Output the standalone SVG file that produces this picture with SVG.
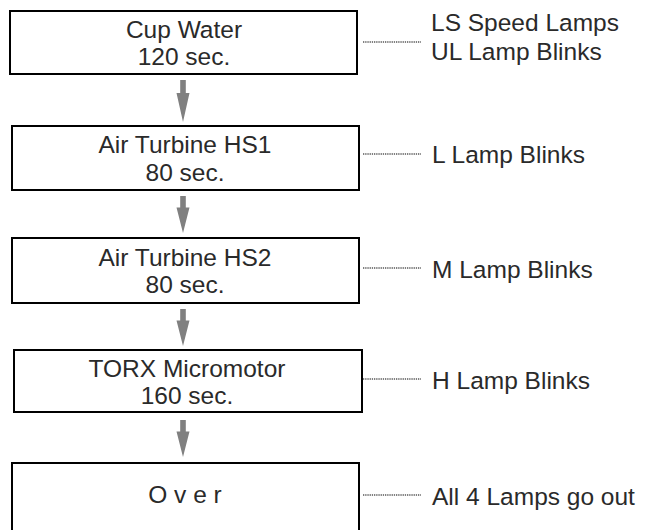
<svg xmlns="http://www.w3.org/2000/svg" width="667" height="530" viewBox="0 0 667 530">
<style>
.box{fill:#fff;stroke:#000;stroke-width:2}
.t{font-family:"Liberation Sans",Arial,sans-serif;font-size:24.5px;fill:#2a2a2a}
.c{text-anchor:middle}
.dot{stroke:#808080;stroke-width:2;stroke-dasharray:1.3 0.9;fill:none}
.arr{fill:#808080}
</style>
<defs>
<path id="arrow" d="M-2.8,0 H2.8 V13 H6.5 L0,42 L-6.5,13 H-2.8 Z"/>
</defs>
<rect width="667" height="530" fill="#fff"/>
<g id="connectors">
<use href="#arrow" class="arr" x="183" y="80"/>
<use href="#arrow" class="arr" transform="translate(183,196) scale(1,0.88)"/>
<use href="#arrow" class="arr" transform="translate(183,309) scale(1,0.88)"/>
<use href="#arrow" class="arr" transform="translate(183,420) scale(1,0.88)"/>
<line class="dot" x1="363" y1="42" x2="421" y2="42"/>
<line class="dot" x1="363" y1="154" x2="421" y2="154"/>
<line class="dot" x1="363" y1="268" x2="421" y2="268"/>
<line class="dot" x1="363" y1="379" x2="421" y2="379"/>
<line class="dot" x1="363" y1="495" x2="421" y2="495"/>
</g>
<g id="node1">
<rect class="box" x="10" y="11" width="347" height="63"/>
<text class="t c" x="184" y="38">Cup Water</text>
<text class="t c" x="184" y="65">120 sec.</text>
</g>
<g id="node2">
<rect class="box" x="12" y="126" width="347" height="64"/>
<text class="t c" x="185" y="153">Air Turbine HS1</text>
<text class="t c" x="185" y="181">80 sec.</text>
</g>
<g id="node3">
<rect class="box" x="12" y="238" width="347" height="65"/>
<text class="t c" x="185" y="266">Air Turbine HS2</text>
<text class="t c" x="185" y="293">80 sec.</text>
</g>
<g id="node4">
<rect class="box" x="14" y="350" width="348" height="62"/>
<text class="t c" x="187" y="377">TORX Micromotor</text>
<text class="t c" x="187" y="404">160 sec.</text>
</g>
<g id="node5">
<rect class="box" x="12" y="463" width="347" height="80"/>
<text class="t c" x="185" y="503">O v e r</text>
</g>
<g id="labels">
<text class="t" x="431" y="31">LS Speed Lamps</text>
<text class="t" x="431" y="60">UL Lamp Blinks</text>
<text class="t" x="432" y="163">L Lamp Blinks</text>
<text class="t" x="432" y="278">M Lamp Blinks</text>
<text class="t" x="432" y="389">H Lamp Blinks</text>
<text class="t" x="432" y="505">All 4 Lamps go out</text>
</g>
</svg>
